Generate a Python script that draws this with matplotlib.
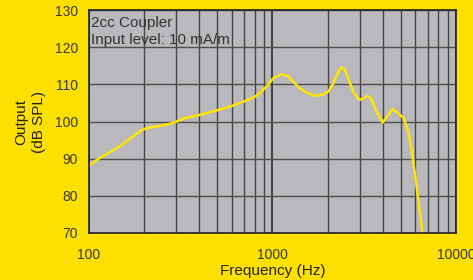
import numpy as np
import matplotlib.pyplot as plt
from matplotlib.ticker import FixedLocator, NullFormatter

plt.rcParams['font.family'] = ['Liberation Sans', 'DejaVu Sans']

# values
freqHz = [101, 110, 122, 136, 151, 171, 194, 210, 229, 259, 282, 300, 333, 363,
          402, 447, 506, 600, 708, 804, 860, 930, 1010, 1121, 1220, 1298, 1412,
          1536, 1704, 1892, 2015, 2145, 2283, 2388, 2484, 2589, 2756, 2973, 3125,
          3298, 3472, 3697, 3986, 4277, 4520, 4848, 5190, 5496, 5700, 5970, 6230,
          6580]
outputDb = [88.3, 89.6, 91.0, 92.3, 93.7, 95.75, 97.7, 98.3, 98.6, 99.1, 99.5,
            100.0, 100.9, 101.3, 101.8, 102.4, 103.1, 104.2, 105.5, 106.7, 107.8,
            109.5, 111.6, 112.8, 112.2, 110.7, 108.9, 107.75, 106.9, 107.3, 108.0,
            110.3, 113.4, 114.6, 114.0, 111.6, 108.0, 105.8, 106.2, 106.9, 106.0,
            102.6, 99.7, 101.75, 103.4, 102.2, 100.9, 97.3, 93.2, 86.1, 78.9, 70.0]

xTicks = [100, 1000, 10000]
xTickLabels = ["100", "1000", "10000"]
yTicks = [70, 80, 90, 100, 110, 120, 130]

bgColor = "#FDE000"
plotColor = "#B9B9BD"
curveColor = "#FFE500"


def main():
    fig = plt.figure(figsize=(4.73, 2.80), dpi=100)
    fig.patch.set_facecolor(bgColor)
    ax = fig.add_axes([0.188, 0.168, 0.776, 0.796])
    ax.set_facecolor(plotColor)

    ax.set_xscale("log")
    ax.set_xlim(100, 10000)
    ax.set_ylim(70, 130)

    ax.xaxis.set_major_locator(FixedLocator(xTicks))
    ax.set_xticklabels(xTickLabels)
    minor = [m * d for d in (100, 1000) for m in range(2, 10)]
    ax.xaxis.set_minor_locator(FixedLocator(minor))
    ax.xaxis.set_minor_formatter(NullFormatter())
    ax.set_yticks(yTicks)

    ax.grid(True, which="major", axis="x", color="#1e1e1e", lw=1.1)
    ax.grid(True, which="minor", axis="x", color="#444444", lw=1.0)
    ax.grid(True, which="major", axis="y", color="#4e4e4e", lw=1.0)
    ax.set_axisbelow(True)

    ax.tick_params(axis="both", which="both", length=0, labelsize=10,
                   colors="#3a3a3a")
    ax.tick_params(axis="x", pad=11)
    ax.tick_params(axis="y", pad=8)

    for s in ax.spines.values():
        s.set_color("#222222")
        s.set_linewidth(1.2)

    ax.plot(freqHz, outputDb, color=curveColor, lw=1.8, clip_on=True,
            solid_joinstyle="round")

    ax.text(0.006, 0.975, "2cc Coupler\nInput level: 10 mA/m", transform=ax.transAxes,
            ha="left", va="top", fontsize=11, color="#333333", linespacing=1.3)

    ax.set_xlabel("Frequency (Hz)", fontsize=11, color="#222222", labelpad=1)
    ax.set_ylabel("Output\n(dB SPL)", fontsize=11, color="#222222", labelpad=6,
                  linespacing=1.35)

    fig.savefig("out.png", dpi=100, facecolor=bgColor)


if __name__ == "__main__":
    main()
